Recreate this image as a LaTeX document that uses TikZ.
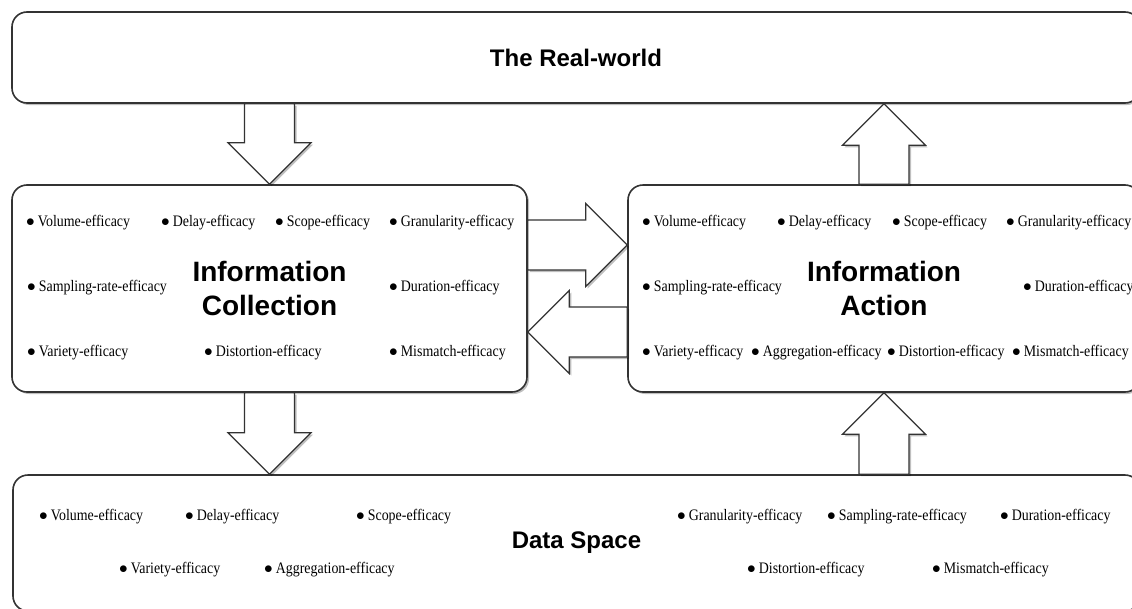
\documentclass[tikz,border=0pt]{standalone}
\usepackage{fontspec}
\setmainfont{Liberation Serif}
\newfontfamily\headfont{Liberation Sans}
\newfontfamily\itemfont[FakeStretch=0.87]{Liberation Serif}
\usetikzlibrary{calc,shadows,positioning}

\tikzset{
  softshadow/.style={drop shadow={shadow xshift=2pt, shadow yshift=-2pt, opacity=0.25, fill=black}},
  box/.style={draw=black!80, line width=1.6pt, fill=white, rounded corners=15pt, softshadow,
    align=center, font=\headfont\bfseries\fontsize{24}{34}\selectfont},
  % block arrow from start to target: shaft 50pt wide, head 83pt wide
  fatarrow/.style={draw=black!80, fill=white, line width=1.2pt, softshadow,
    to path={let \p1=(\tikztostart), \p2=(\tikztotarget), \p3=($(\p2)!41.5pt!(\p1)$) in
      ($(\p1)!25pt!90:(\p2)$) -- ($(\p3)!25pt!90:(\p2)$) -- ($(\p3)!41.5pt!90:(\p2)$) -- (\p2)
      -- ($(\p3)!41.5pt!-90:(\p2)$) -- ($(\p3)!25pt!-90:(\p2)$) -- ($(\p1)!25pt!-90:(\p2)$) -- cycle}},
  item/.style={anchor=west, inner sep=0pt, font=\itemfont\fontsize{16}{18}\selectfont}
}

\begin{document}
\begin{tikzpicture}[x=1pt, y=-1pt]
	\useasboundingbox (0,0) rectangle (1132,608);
	\clip (0,0) rectangle (1132,608);

	% the four boxes
	\node[box, minimum width=1128, minimum height=91] (real) at (576,57.5) {The Real-world};
	\node[box, minimum width=515, minimum height=207, font=\headfont\bfseries\fontsize{28}{34}\selectfont]
	  (collect) at (269.5,288.5) {Information\\Collection};
	\node[box, minimum width=512, minimum height=207, font=\headfont\bfseries\fontsize{28}{34}\selectfont]
	  (action) at (884,288.5) {Information\\Action};
	\node[box, minimum width=1127, minimum height=136] (data) at (576.5,543) {Data Space};

	% block arrows
	\draw[fatarrow] (collect.north |- real.south) to (collect.north);
	\draw[fatarrow] (action.north) to (action.north |- real.south);
	\draw[fatarrow] ($(collect.east)+(0,-43.5)$) to ($(action.west)+(0,-43.5)$);
	\draw[fatarrow] ($(action.west)+(0,43.5)$) to ($(collect.east)+(0,43.5)$);
	\draw[fatarrow] (collect.south) to (collect.south |- data.north);
	\draw[fatarrow] (action.south |- data.north) to (action.south);

	% efficacy items
	\foreach \px/\py/\txt [count=\i] in {
	    26/223/Volume-efficacy, 161/223/Delay-efficacy, 275/223/Scope-efficacy, 389/223/Granularity-efficacy,
	    27/288/Sampling-rate-efficacy, 389/288/Duration-efficacy,
	    27/353/Variety-efficacy, 204/353/Distortion-efficacy, 389/353/Mismatch-efficacy}
	  \node[item] (ci\i) at (\px,\py) {$\bullet$\hspace{3pt}\txt};
	\foreach \px/\py/\txt [count=\i] in {
	    642/223/Volume-efficacy, 777/223/Delay-efficacy, 892/223/Scope-efficacy, 1006/223/Granularity-efficacy,
	    642/288/Sampling-rate-efficacy, 1023/288/Duration-efficacy,
	    642/353/Variety-efficacy, 751/353/Aggregation-efficacy, 887/353/Distortion-efficacy, 1012/353/Mismatch-efficacy}
	  \node[item] (ai\i) at (\px,\py) {$\bullet$\hspace{3pt}\txt};
	\foreach \px/\py/\txt [count=\i] in {
	    39/517/Volume-efficacy, 185/517/Delay-efficacy, 356/517/Scope-efficacy,
	    677/517/Granularity-efficacy, 827/517/Sampling-rate-efficacy, 1000/517/Duration-efficacy,
	    119/570/Variety-efficacy, 264/570/Aggregation-efficacy, 747/570/Distortion-efficacy, 932/570/Mismatch-efficacy}
	  \node[item] (di\i) at (\px,\py) {$\bullet$\hspace{3pt}\txt};
\end{tikzpicture}
\end{document}
